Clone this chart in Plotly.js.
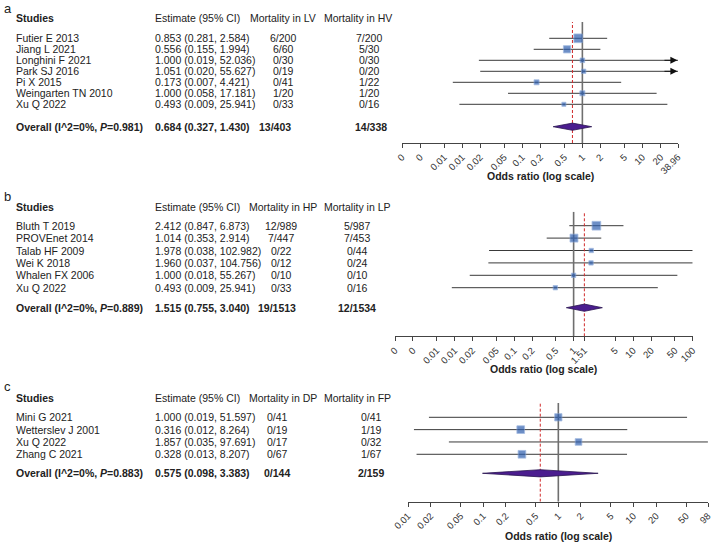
<!DOCTYPE html>
<html><head><meta charset="utf-8">
<script src="https://cdn.plot.ly/plotly-3.0.1.min.js"></script>
<style>html,body{margin:0;padding:0;background:#fff}</style>
</head><body><div id="chart" style="width:715px;height:542px"></div>
<script>
// ---------- DATA ----------
// Panel a
const studiesA = ['Futier E 2013','Jiang L 2021','Longhini F 2021','Park SJ 2016','Pi X 2015','Weingarten TN 2010','Xu Q 2022'];
const orA = [0.853,0.556,1.000,1.051,0.173,1.000,0.493];
const loA = [0.281,0.155,0.019,0.020,0.007,0.058,0.009];
const hiA = [2.584,1.994,52.036,55.627,4.421,17.181,25.941];
const weightA = [36,25,10,9,12,12,8];
const col3A = ['6/200','6/60','0/30','0/19','0/41','1/20','0/33'];
const col4A = ['7/200','5/30','0/30','0/20','1/22','1/20','0/16'];
const overallA = {or:0.684, lo:0.327, hi:1.430, c3:'13/403', c4:'14/338', p:'0.981'};
const headA = ['Mortality in LV','Mortality in HV'];
const tickValsA = [0.001,0.002,0.005,0.01,0.02,0.05,0.1,0.2,0.5,1,2,5,10,20,38.96];
const tickTextA = ['0','0','0.01','0.01','0.02','0.05','0.1','0.2','0.5','1','2','5','10','20','38.96'];

// Panel b
const studiesB = ['Bluth T 2019','PROVEnet 2014','Talab HF 2009','Wei K 2018','Whalen FX 2006','Xu Q 2022'];
const orB = [2.412,1.014,1.978,1.960,1.000,0.493];
const loB = [0.847,0.353,0.038,0.037,0.018,0.009];
const hiB = [6.873,2.914,102.982,104.756,55.267,25.941];
const weightB = [36,30,9,9,9,9];
const col3B = ['12/989','7/447','0/22','0/12','0/10','0/33'];
const col4B = ['5/987','7/453','0/44','0/24','0/10','0/16'];
const overallB = {or:1.515, lo:0.755, hi:3.040, c3:'19/1513', c4:'12/1534', p:'0.889'};
const headB = ['Mortality in HP','Mortality in LP'];
const tickValsB = [0.001,0.002,0.005,0.01,0.02,0.05,0.1,0.2,0.5,1,1.515,5,10,20,50,100];
const tickTextB = ['0','0','0.01','0.01','0.02','0.05','0.1','0.2','0.5','1','1.51','5','10','20','50','100'];

// Panel c
const studiesC = ['Mini G 2021','Wetterslev J 2001','Xu Q 2022','Zhang C 2021'];
const orC = [1.000,0.316,1.857,0.328];
const loC = [0.019,0.012,0.035,0.013];
const hiC = [51.597,8.264,97.691,8.207];
const weightC = [25,28,21,28];
const col3C = ['0/41','0/19','0/17','0/67'];
const col4C = ['0/41','1/19','0/32','1/67'];
const overallC = {or:0.575, lo:0.098, hi:3.383, c3:'0/144', c4:'2/159', p:'0.883'};
const headC = ['Mortality in DP','Mortality in FP'];
const tickValsC = [0.01,0.02,0.05,0.1,0.2,0.5,1,2,5,10,20,50,98];
const tickTextC = ['0.01','0.02','0.05','0.1','0.2','0.5','1','2','5','10','20','50','98'];

// ---------- LAYOUT GEOMETRY (pixels) ----------
const W = 715, H = 542;
const FONT = 'Liberation Sans, Arial, Helvetica, sans-serif';
const panels = [
  {letter:'a', studies:studiesA, or:orA, lo:loA, hi:hiA, w:weightA, c3:col3A, c4:col4A, ov:overallA, head:headA,
   tv:tickValsA, tt:tickTextA, xmin:0.001, xmax:38.96, xpx:[402,678], arrow:true,
   y0:38.3, step:11, topPx:22, axisPx:143, ovPx:126.7, hdrPx:18, letterPx:8, titlePx:176, dh:3.6,
   c3x:283, c4x:369, c3ox:275, c4ox:371},
  {letter:'b', studies:studiesB, or:orB, lo:loB, hi:hiB, w:weightB, c3:col3B, c4:col4B, ov:overallB, head:headB,
   tv:tickValsB, tt:tickTextB, xmin:0.001, xmax:100, xpx:[395,692.7], arrow:false,
   y0:225.7, step:12.4, topPx:211.7, axisPx:336.3, ovPx:307.7, hdrPx:207, letterPx:196, titlePx:369, dh:3.6,
   c3x:281, c4x:357, c3ox:277, c4ox:357},
  {letter:'c', studies:studiesC, or:orC, lo:loC, hi:hiC, w:weightC, c3:col3C, c4:col4C, ov:overallC, head:headC,
   tv:tickValsC, tt:tickTextC, xmin:0.01, xmax:98, xpx:[408,708], arrow:false,
   y0:417.3, step:12.33, topPx:403, axisPx:501.7, ovPx:473.3, hdrPx:398, letterPx:386, titlePx:536, dh:3.6,
   c3x:277, c4x:371, c3ox:277, c4ox:371}
];

const traces = [], ann = [], layout = {
  width:W, height:H, margin:{l:0,r:0,t:0,b:0}, paper_bgcolor:'#fff', plot_bgcolor:'rgba(0,0,0,0)',
  showlegend:false, font:{family:FONT, color:'#222'}
};

panels.forEach((p,k) => {
  const sfx = k===0 ? '' : String(k+1);
  const xa = 'x'+sfx, ya = 'y'+sfx;
  const idx = px => (px - p.y0)/p.step;
  const rowPx = i => p.y0 + p.step*i;
  const yr = [idx(p.axisPx), idx(p.topPx)];
  const rows = p.studies.map((s,i)=>i);

  layout['xaxis'+sfx] = {
    type:'log', range:[Math.log10(p.xmin)-1e-6, Math.log10(p.xmax)+1e-6], domain:[p.xpx[0]/W, p.xpx[1]/W],
    anchor:ya, tickmode:'array', tickvals:p.tv, ticktext:p.tt, tickangle:-45,
    ticks:'outside', ticklen:4, tickwidth:1, tickcolor:'#444',
    showline:true, linecolor:'#444', linewidth:1, showgrid:false, zeroline:false,
    tickfont:{size:9.5, color:'#333', family:FONT}, fixedrange:true
  };
  layout['yaxis'+sfx] = {
    domain:[1-p.axisPx/H, 1-p.topPx/H], range:yr, autorange:false, visible:false,
    anchor:xa, fixedrange:true
  };

  // CI lines
  p.or.forEach((v,i) => {
    traces.push({type:'scatter', mode:'lines', xaxis:xa, yaxis:ya, hoverinfo:'skip',
      x:[Math.max(p.lo[i],p.xmin), Math.min(p.hi[i],p.xmax)], y:[i,i],
      line:{color:'#3a3a3a', width:1}});
    if (p.arrow && p.hi[i] > p.xmax) {
      ann.push({xref:xa, yref:ya, axref:xa, ayref:ya, x:Math.log10(p.xmax)-0.01, y:i,
        ax:Math.log10(p.xmax)-0.25, ay:i, showarrow:true, arrowhead:2, arrowsize:1.4,
        arrowwidth:1, arrowcolor:'#111', text:'', standoff:0});
    }
  });
  // reference line at 1 and overall estimate line
  traces.push({type:'scatter', mode:'lines', xaxis:xa, yaxis:ya, hoverinfo:'skip',
    x:[1,1], y:yr, line:{color:'#6f6f6f', width:1.6}});
  traces.push({type:'scatter', mode:'lines', xaxis:xa, yaxis:ya, hoverinfo:'skip',
    x:[p.ov.or,p.ov.or], y:yr, line:{color:'#d02a2a', width:1, dash:'3px,2px'}});
  // squares
  traces.push({type:'scatter', mode:'markers', xaxis:xa, yaxis:ya, hoverinfo:'skip',
    x:p.or, y:rows,
    marker:{symbol:'square', size:p.w.map(w=>1.45*Math.sqrt(w)), color:'#2f5fae',
      line:{color:'#7f9fd6', width:0.8}}});
  // diamond
  const oy = idx(p.ovPx), h = p.dh/p.step;
  traces.push({type:'scatter', mode:'lines', xaxis:xa, yaxis:ya, hoverinfo:'skip',
    x:[p.ov.lo, p.ov.or, p.ov.hi, p.ov.or, p.ov.lo], y:[oy, oy-h, oy, oy+h, oy],
    fill:'toself', fillcolor:'#4b1d8f', line:{color:'#2a1550', width:0.8}});

  // table text (paper coordinates)
  const fs = 10.5;
  const addT = (text, x, ypx, xanchor, size) => ann.push({xref:'paper', yref:'paper', x:x/W, y:1-ypx/H, text:text,
    showarrow:false, xanchor:xanchor, yanchor:'middle', font:{size:size||fs, family:FONT, color:'#222'}});
  addT(p.letter, 2, p.letterPx, 'left', 13);
  addT('<b>Studies</b>', 14, p.hdrPx, 'left');
  addT('Estimate (95% CI)', 153, p.hdrPx, 'left');
  addT(p.head[0], 282.5, p.hdrPx, 'center');
  addT(p.head[1], 357.5, p.hdrPx, 'center');
  p.studies.forEach((s,i) => {
    const y = rowPx(i);
    addT(s, 14, y, 'left');
    addT(p.or[i].toFixed(3)+' ('+p.lo[i].toFixed(3)+', '+p.hi[i].toFixed(3)+')', 153, y, 'left');
    addT(p.c3[i], p.c3x, y, 'center');
    addT(p.c4[i], p.c4x, y, 'center');
  });
  addT('<b>Overall (I^2=0%, <i>P</i>='+p.ov.p+')</b>', 14, p.ovPx, 'left');
  addT('<b>'+p.ov.or.toFixed(3)+' ('+p.ov.lo.toFixed(3)+', '+p.ov.hi.toFixed(3)+')</b>', 153, p.ovPx, 'left');
  addT('<b>'+p.ov.c3+'</b>', p.c3ox, p.ovPx, 'center');
  addT('<b>'+p.ov.c4+'</b>', p.c4ox, p.ovPx, 'center');
  // axis title
  ann.push({xref:'paper', yref:'paper', x:(p.xpx[0]+p.xpx[1])/2/W, y:1-p.titlePx/H,
    text:'<b>Odds ratio (log scale)</b>', showarrow:false, xanchor:'center', yanchor:'middle',
    font:{size:10.5, family:FONT, color:'#222'}});
});

layout.annotations = ann;
Plotly.newPlot('chart', traces, layout, {displayModeBar:false, staticPlot:true});
</script></body></html>
